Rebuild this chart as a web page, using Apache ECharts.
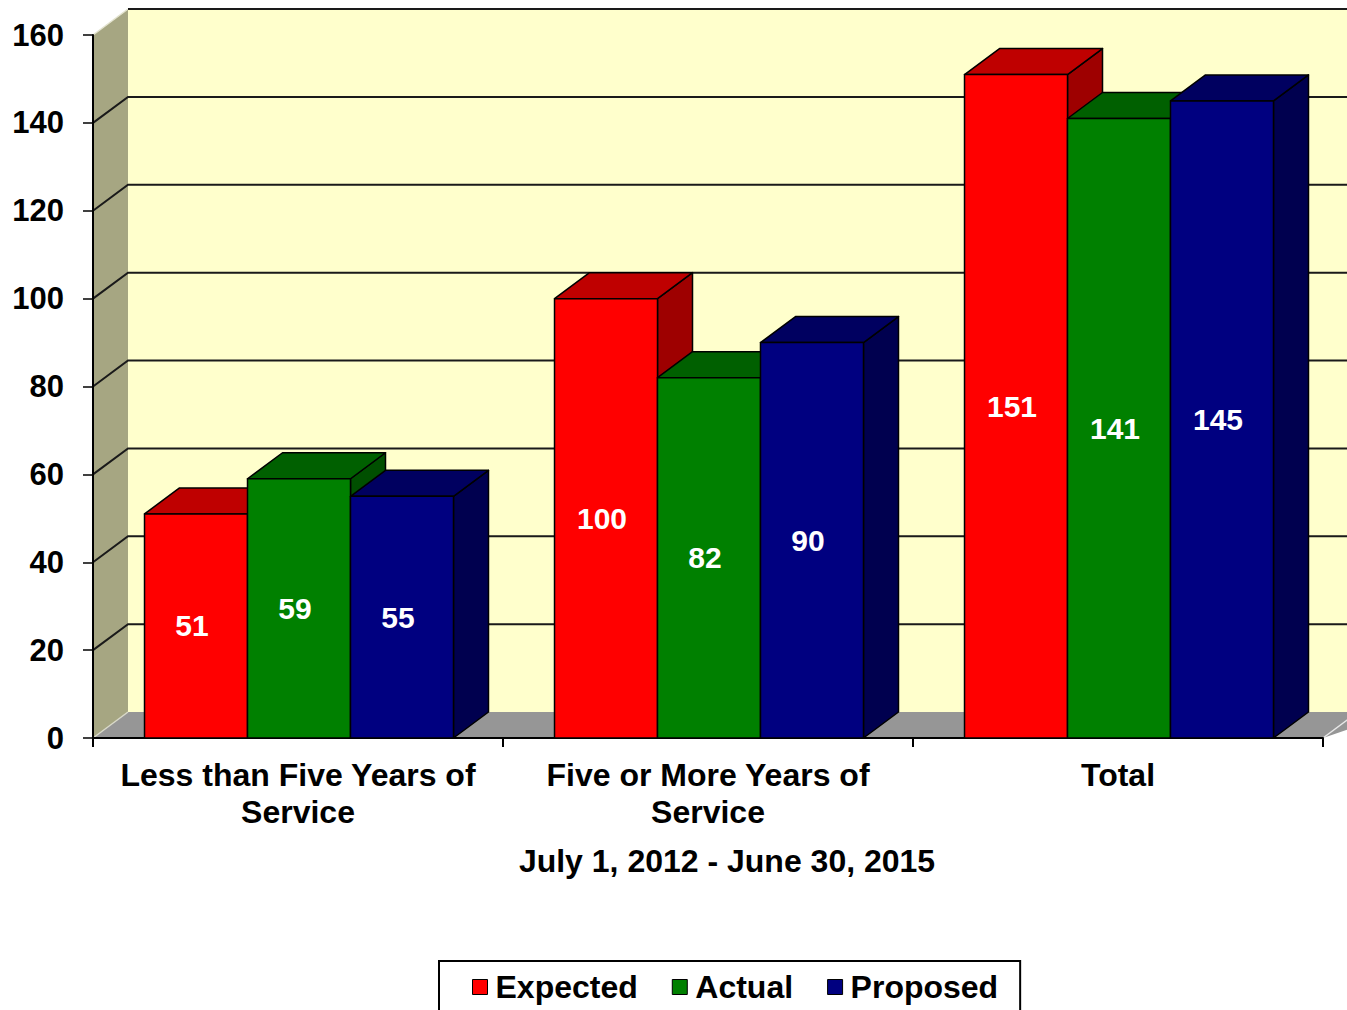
<!DOCTYPE html>
<html>
<head>
<meta charset="utf-8">
<script src="https://cdn.jsdelivr.net/npm/echarts@6/dist/echarts.min.js"></script>
<style>
  html, body { margin: 0; padding: 0; background: #ffffff; }
  #chart { width: 1347px; height: 1010px; }
</style>
</head>
<body>
<div id="chart"></div>
<script>
// Chart data
const categories = ['Less than Five Years of\nService', 'Five or More Years of\nService', 'Total'];
const expected = [51, 100, 151];
const actual = [59, 82, 141];
const proposed = [55, 90, 145];
const yTicks = [0, 20, 40, 60, 80, 100, 120, 140, 160];
const periodLabel = 'July 1, 2012 - June 30, 2015';

// 3D projection offset (pixels) for the depth of walls and bars
const DEPTH_X = 35;
const DEPTH_Y = -26;
const FONT = '"Liberation Sans", Arial, Helvetica, sans-serif';
const BAR_FRACTION = 0.2512;   // width of one bar relative to the category band

function shade(hex, f) {
  const n = parseInt(hex.slice(1), 16);
  const r = Math.round(((n >> 16) & 255) * f);
  const g = Math.round(((n >> 8) & 255) * f);
  const b = Math.round((n & 255) * f);
  return 'rgb(' + r + ',' + g + ',' + b + ')';
}

// Renders one 3D bar: side face, top face, front face, and its value label
function barRenderer(slot, color) {
  const topColor = shade(color, 0.75);
  const sideColor = shade(color, 0.62);
  return function (params, api) {
    const idx = api.value(0);
    const val = api.value(1);
    const band = api.size([1, 0])[0];
    const w = band * BAR_FRACTION;
    const base = api.coord([idx, 0]);
    const top = api.coord([idx, val])[1];
    const x0 = base[0] + (slot - 1.5) * w + 1;
    const y0 = base[1];
    const line = { stroke: '#000', lineWidth: 1.5, lineJoin: 'round' };
    return {
      type: 'group',
      children: [
        {
          type: 'polygon',
          shape: { points: [[x0 + w, top], [x0 + w + DEPTH_X, top + DEPTH_Y], [x0 + w + DEPTH_X, y0 + DEPTH_Y], [x0 + w, y0]] },
          style: Object.assign({ fill: sideColor }, line)
        },
        {
          type: 'polygon',
          shape: { points: [[x0, top], [x0 + w, top], [x0 + w + DEPTH_X, top + DEPTH_Y], [x0 + DEPTH_X, top + DEPTH_Y]] },
          style: Object.assign({ fill: topColor }, line)
        },
        {
          type: 'rect',
          shape: { x: x0, y: top, width: w, height: y0 - top },
          style: Object.assign({ fill: color }, line)
        },
        {
          type: 'text',
          x: x0 + w / 2 - 4,
          y: (top + y0) / 2,
          style: {
            text: String(val),
            fill: '#ffffff',
            font: 'bold 30px ' + FONT,
            align: 'center',
            verticalAlign: 'middle',
            textAlign: 'center',
            textVerticalAlign: 'middle'
          }
        }
      ]
    };
  };
}

// Renders the walls, floor and wall gridlines of the 3D plot box
function wallRenderer(params, api) {
  const cs = params.coordSys;
  const xl = cs.x;
  const xr = cs.x + cs.width;
  const yBase = api.coord([0, 0])[1];
  const yTop = api.coord([0, yTicks[yTicks.length - 1]])[1];
  const children = [
    {
      type: 'polygon',
      shape: { points: [[xl + DEPTH_X, yTop + DEPTH_Y], [xr + DEPTH_X + 40, yTop + DEPTH_Y], [xr + DEPTH_X + 40, yBase + DEPTH_Y], [xl + DEPTH_X, yBase + DEPTH_Y]] },
      style: { fill: '#FFFFCC' }
    },
    {
      type: 'polygon',
      shape: { points: [[xl, yTop], [xl + DEPTH_X, yTop + DEPTH_Y], [xl + DEPTH_X, yBase + DEPTH_Y], [xl, yBase]] },
      style: { fill: '#A6A682' }
    },
    {
      type: 'polygon',
      shape: { points: [[xl, yBase], [xl + DEPTH_X, yBase + DEPTH_Y], [xr + DEPTH_X + 40, yBase + DEPTH_Y], [xr, yBase]] },
      style: { fill: '#969696' }
    },
    {
      type: 'polyline',
      shape: { points: [[xl, yBase], [xl + DEPTH_X, yBase + DEPTH_Y]] },
      style: { stroke: '#D8D8C8', lineWidth: 1.5, fill: null }
    },
    {
      type: 'polyline',
      shape: { points: [[xl, yTop], [xl + DEPTH_X, yTop + DEPTH_Y]] },
      style: { stroke: '#E4E4D0', lineWidth: 1.5, fill: null }
    },
    {
      type: 'polyline',
      shape: { points: [[xr, yBase], [xr + DEPTH_X, yBase + DEPTH_Y]] },
      style: { stroke: '#E8E8E8', lineWidth: 1.5, fill: null }
    }
  ];
  yTicks.forEach(function (v) {
    if (v === 0) return;
    const y = api.coord([0, v])[1];
    const pts = v === yTicks[yTicks.length - 1]
      ? [[xl + DEPTH_X, y + DEPTH_Y], [xr + DEPTH_X + 40, y + DEPTH_Y]]
      : [[xl, y], [xl + DEPTH_X, y + DEPTH_Y], [xr + DEPTH_X + 40, y + DEPTH_Y]];
    children.push({
      type: 'polyline',
      shape: { points: pts },
      style: { stroke: '#1a1a1a', lineWidth: 2, fill: null }
    });
  });
  return { type: 'group', children: children };
}

function toItems(values) {
  return values.map(function (v, i) { return [i, v]; });
}

const seriesDefs = [
  { name: 'Expected', color: '#FF0000', values: expected },
  { name: 'Actual', color: '#008000', values: actual },
  { name: 'Proposed', color: '#000080', values: proposed }
];

const chart = echarts.init(document.getElementById('chart'), null, { renderer: 'svg' });

const series = [{
  type: 'custom',
  name: 'wall',
  silent: true,
  z: 1,
  renderItem: wallRenderer,
  data: [[0, 0]]
}];
seriesDefs.forEach(function (s, slot) {
  series.push({
    type: 'custom',
    name: s.name,
    z: 4,
    itemStyle: { color: s.color },
    renderItem: barRenderer(slot, s.color),
    data: toItems(s.values)
  });
});

chart.setOption({
  animation: false,
  backgroundColor: '#ffffff',
  grid: { left: 93, right: 24, top: 35, bottom: 272, containLabel: false },
  xAxis: {
    type: 'category',
    data: categories,
    z: 3,
    name: periodLabel,
    nameLocation: 'middle',
    nameGap: 107,
    nameTextStyle: { fontSize: 32, fontWeight: 'bold', color: '#000', fontFamily: FONT, padding: [0, 0, 0, 38] },
    axisLine: { lineStyle: { color: '#000', width: 2 } },
    axisTick: { show: true, length: 9, lineStyle: { color: '#000', width: 2 } },
    axisLabel: { fontSize: 32, fontWeight: 'bold', color: '#000', fontFamily: FONT, lineHeight: 37, margin: 18, interval: 0 },
    splitLine: { show: false }
  },
  yAxis: {
    type: 'value',
    min: 0,
    max: 160,
    interval: 20,
    z: 3,
    axisLine: { show: true, lineStyle: { color: '#000', width: 2 } },
    axisTick: { show: true, length: 10, lineStyle: { color: '#000', width: 1.5 } },
    axisLabel: { fontSize: 31, fontWeight: 'bold', color: '#000', fontFamily: FONT, margin: 29 },
    splitLine: { show: false }
  },
  legend: {
    data: ['Expected', 'Actual', 'Proposed'],
    left: 439,
    top: 961,
    orient: 'horizontal',
    padding: [10, 22, 30, 33],
    borderColor: '#000',
    borderWidth: 2,
    itemGap: 34,
    itemWidth: 15,
    itemHeight: 15,
    icon: 'rect',
    selectedMode: false,
    itemStyle: { borderColor: '#000', borderWidth: 1 },
    textStyle: { fontSize: 32, fontWeight: 'bold', color: '#000', fontFamily: FONT, padding: [0, 0, 0, 3] }
  },
  series: series
});
</script>
</body>
</html>
